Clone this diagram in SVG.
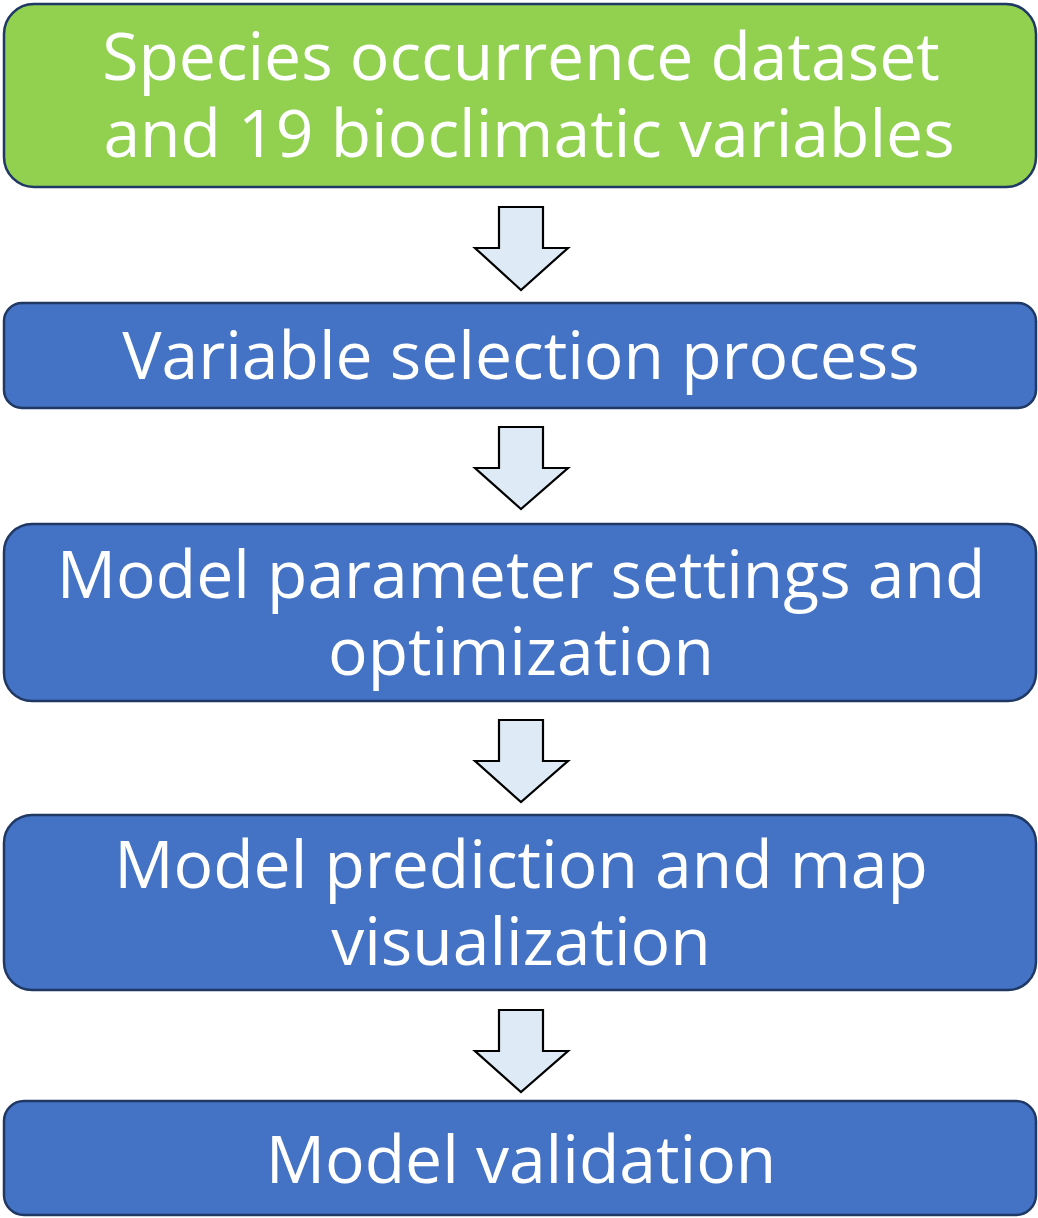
<svg xmlns="http://www.w3.org/2000/svg" width="1038" height="1218" viewBox="0 0 1038 1218">
<style>
.box{stroke:#1F3864;stroke-width:2.5}
.green{fill:#92D050}
.blue{fill:#4472C4}
.t{font-family:"Open Sans","Noto Sans",sans-serif;font-size:66px;fill:#fff;text-anchor:middle}
.arr{fill:#DEEBF7;stroke:#000;stroke-width:2.2;stroke-linejoin:miter}
</style>
<rect width="1038" height="1218" fill="#fff"/>
<g id="n1"><rect class="box green" x="4" y="4" width="1032" height="183" rx="30"/>
<text class="t"><tspan x="521" y="80">Species occurrence dataset</tspan><tspan x="529" y="157">and 19 bioclimatic variables</tspan></text></g>
<g id="n2"><rect class="box blue" x="4" y="303" width="1032" height="105" rx="18"/>
<text class="t" x="521" y="379">Variable selection process</text></g>
<g id="n3"><rect class="box blue" x="4" y="524" width="1032" height="177" rx="28"/>
<text class="t"><tspan x="521" y="598">Model parameter settings and</tspan><tspan x="521" y="675">optimization</tspan></text></g>
<g id="n4"><rect class="box blue" x="4" y="815" width="1032" height="175" rx="28"/>
<text class="t"><tspan x="521" y="888">Model prediction and map</tspan><tspan x="521" y="965">visualization</tspan></text></g>
<g id="n5"><rect class="box blue" x="4" y="1101" width="1032" height="114" rx="20"/>
<text class="t" x="521" y="1183">Model validation</text></g>
<g id="connectors">
<path class="arr" d="M499,207 H543 V248 H568 L521,290 L475,248 H499 Z"/>
<path class="arr" d="M499,427 H543 V468 H568 L521,509 L475,468 H499 Z"/>
<path class="arr" d="M499,720 H543 V761 H568 L521,802 L475,761 H499 Z"/>
<path class="arr" d="M499,1010 H543 V1051 H568 L521,1092 L475,1051 H499 Z"/>
</g>
</svg>
